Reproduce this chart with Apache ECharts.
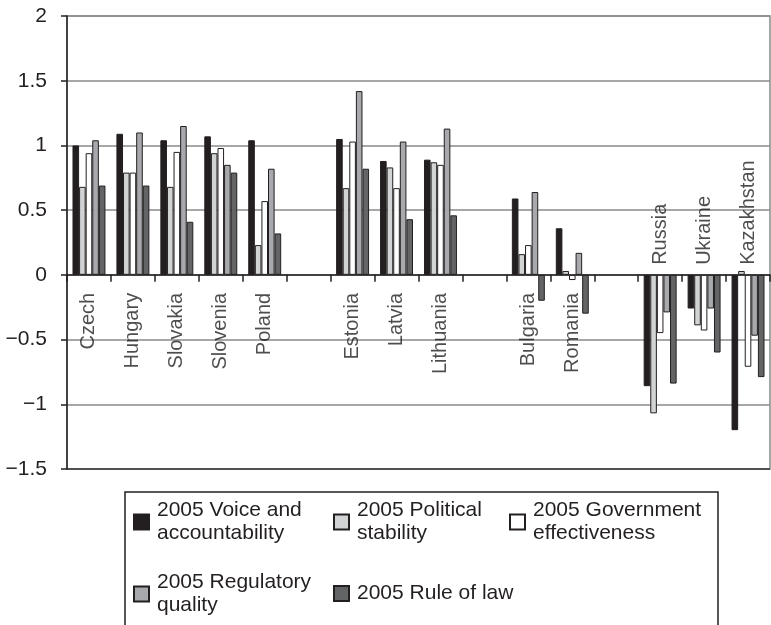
<!DOCTYPE html>
<html>
<head>
<meta charset="utf-8">
<script src="https://cdn.jsdelivr.net/npm/echarts@6/dist/echarts.min.js"></script>
<style>
  html, body { margin: 0; padding: 0; background: #fff; }
  #chart { width: 771px; height: 625px; }
</style>
</head>
<body>
<div id="chart"></div>
<script>
// Country groups, with empty slots separating Central Europe, the Baltics, SE Europe and the CIS
const categories = ['Czech', 'Hungary', 'Slovakia', 'Slovenia', 'Poland', '',
  'Estonia', 'Latvia', 'Lithuania', '', 'Bulgaria', 'Romania', '',
  'Russia', 'Ukraine', 'Kazakhstan'];

// Countries whose name sits above the zero line
const labelsAbove = ['Russia', 'Ukraine', 'Kazakhstan'];

const voice      = [1.00, 1.09, 1.04, 1.07, 1.04, null, 1.05, 0.88, 0.89, null, 0.59, 0.36, null, -0.86, -0.26, -1.20];
const political  = [0.68, 0.79, 0.68, 0.94, 0.23, null, 0.67, 0.83, 0.87, null, 0.16, 0.03, null, -1.07, -0.39, 0.03];
const government = [0.94, 0.79, 0.95, 0.98, 0.57, null, 1.03, 0.67, 0.85, null, 0.23, -0.04, null, -0.45, -0.43, -0.71];
const regulatory = [1.04, 1.10, 1.15, 0.85, 0.82, null, 1.42, 1.03, 1.13, null, 0.64, 0.17, null, -0.29, -0.26, -0.47];
const ruleOfLaw  = [0.69, 0.69, 0.41, 0.79, 0.32, null, 0.82, 0.43, 0.46, null, -0.20, -0.30, null, -0.84, -0.60, -0.79];

const seriesNames = ['2005 Voice and accountability', '2005 Political stability',
  '2005 Government effectiveness', '2005 Regulatory quality', '2005 Rule of law'];

// Legend text broken over two lines
const legendLines = {
  '2005 Voice and accountability': '2005 Voice and\naccountability',
  '2005 Political stability': '2005 Political\nstability',
  '2005 Government effectiveness': '2005 Government\neffectiveness',
  '2005 Regulatory quality': '2005 Regulatory\nquality',
  '2005 Rule of law': '2005 Rule of law'
};

const yMin = -1.5, yMax = 2, yStep = 0.5;

const FONT = "'Liberation Sans', Arial, Helvetica, sans-serif";
const INK = '#231f20';
const fills = ['#231f20', '#d1d3d4', '#ffffff', '#a7a9ac', '#636466'];
const values = [voice, political, government, regulatory, ruleOfLaw];

const chart = echarts.init(document.getElementById('chart'), null, { renderer: 'canvas' });

const legendBase = {
  orient: 'horizontal',
  padding: 0,
  itemGap: 0,
  itemWidth: 15,
  itemHeight: 15,
  icon: 'rect',
  selectedMode: false,
  formatter: n => legendLines[n] || n,
  textStyle: { fontFamily: FONT, fontSize: 21, lineHeight: 23, color: INK, padding: [0, 0, 0, 3] }
};

const legendPos = [
  { left: 133, top: 499 },
  { left: 333, top: 499 },
  { left: 509, top: 499 },
  { left: 133, top: 571 },
  { left: 333, top: 582 }
];

const splitColors = [];
for (let v = yMin; v <= yMax + 1e-9; v += yStep) splitColors.push(v === yMin ? '#333' : '#8a8a8a');

// Country names written vertically at the zero line
const nameMarks = categories.filter(c => c).map(c => {
  const above = labelsAbove.includes(c);
  return {
    value: [c, 0],
    label: above
      ? { align: 'left', padding: [0, 0, 0, 10] }
      : { align: 'right', padding: [0, 18, 0, 0] }
  };
});

const barSeries = seriesNames.map((n, i) => ({
  name: n,
  type: 'bar',
  data: values[i],
  barGap: '0%',
  barCategoryGap: '25%',
  itemStyle: { color: fills[i], borderColor: INK, borderWidth: 1 }
}));

chart.setOption({
  animation: false,
  backgroundColor: '#fff',
  textStyle: { fontFamily: FONT },
  grid: {
    left: 67, right: 1, top: 16, bottom: 156,
    show: true, borderColor: '#8a8a8a', borderWidth: 1.5
  },
  legend: seriesNames.map((n, i) => Object.assign({}, legendBase, legendPos[i], { data: [n] })),
  graphic: [{
    type: 'rect',
    shape: { x: 125, y: 492, width: 593, height: 150 },
    style: { fill: 'none', stroke: INK, lineWidth: 1.5 },
    z: -1
  }],
  xAxis: {
    type: 'category',
    data: categories,
    axisLine: { onZero: true, lineStyle: { color: INK, width: 1.5 } },
    axisTick: { show: true, length: 7, alignWithLabel: false, interval: 0, lineStyle: { color: INK, width: 1.5 } },
    axisLabel: { show: false },
    splitLine: { show: false }
  },
  yAxis: {
    type: 'value',
    min: yMin, max: yMax, interval: yStep,
    axisLine: { show: true, lineStyle: { color: INK, width: 1.5 } },
    axisTick: { show: true, length: 6, lineStyle: { color: INK, width: 1.5 } },
    axisLabel: {
      margin: 20, fontFamily: FONT, fontSize: 21, color: INK,
      formatter: v => v < 0 ? '\u2212' + Math.abs(v) : String(v)
    },
    splitLine: { show: true, lineStyle: { color: splitColors, width: 1.5 } }
  },
  series: barSeries.concat([{
    type: 'scatter',
    name: 'countries',
    symbolSize: 0,
    silent: true,
    z: 5,
    data: nameMarks,
    label: {
      show: true,
      position: 'inside',
      rotate: 90,
      verticalAlign: 'middle',
      formatter: p => p.value[0],
      fontFamily: FONT, fontSize: 20, color: INK
    }
  }])
});
</script>
</body>
</html>
